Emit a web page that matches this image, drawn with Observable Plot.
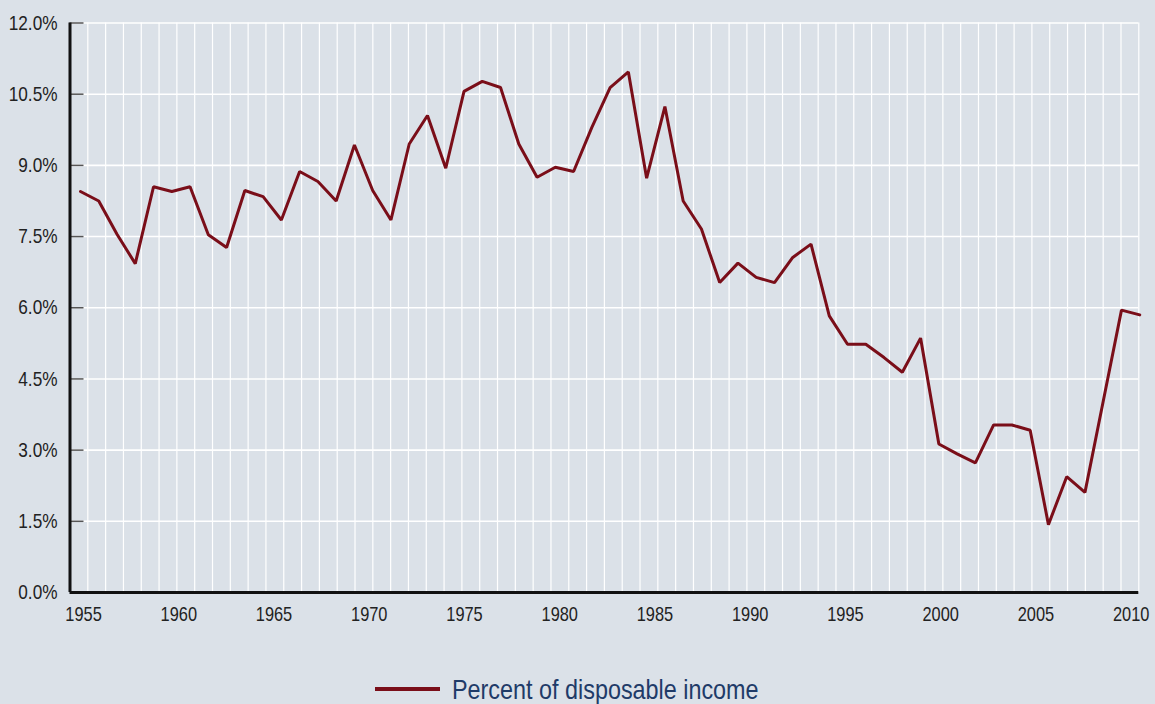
<!DOCTYPE html>
<html><head><meta charset="utf-8">
<script src="https://cdn.jsdelivr.net/npm/d3@7"></script>
<script src="https://cdn.jsdelivr.net/npm/@observablehq/plot@0.6"></script>
<style>
html,body{margin:0;padding:0;background:#dbe1e8;width:1155px;height:704px;overflow:hidden;}
#chart{position:absolute;left:0;top:0;}
#legend{position:absolute;left:375px;top:675px;display:flex;align-items:center;font-family:"Liberation Sans",Arial,sans-serif;font-size:28.5px;line-height:28px;color:#1f3b68;white-space:nowrap;}
#legend .sw{display:inline-block;width:65px;height:4px;background:#7a0e19;margin-right:12px;}
#legend .txt{display:inline-block;transform:scaleX(0.82);transform-origin:left center;}
</style></head><body>
<div id="chart"></div>
<div id="legend"><span class="sw"></span><span class="txt">Percent of disposable income</span></div>
<script>
// Series: personal saving, percent of disposable income
const years = [1952,1953,1954,1955,1956,1957,1958,1959,1960,1961,1962,1963,1964,1965,1966,1967,1968,1969,1970,1971,
  1972,1973,1974,1975,1976,1977,1978,1979,1980,1981,1982,1983,1984,1985,1986,1987,1988,1989,1990,1991,
  1992,1993,1994,1995,1996,1997,1998,1999,2000,2001,2002,2003,2004,2005,2006,2007,2008,2009,2010];
const savingRate = [8.45,8.25,7.55,6.93,8.55,8.45,8.55,7.54,7.27,8.47,
  8.34,7.85,8.87,8.66,8.25,9.43,8.47,7.85,9.45,10.05,
  8.94,10.56,10.77,10.64,9.45,8.75,8.96,8.87,9.80,10.64,
  10.97,8.73,10.24,8.25,7.66,6.53,6.94,6.64,6.53,7.06,
  7.34,5.83,5.23,5.23,4.95,4.64,5.36,3.13,2.92,2.73,
  3.53,3.53,3.42,1.43,2.44,2.11,4.03,5.95,5.85];
const xTickYears = [1955,1960,1965,1970,1975,1980,1985,1990,1995,2000,2005,2010];
const yTicks = [0,1.5,3,4.5,6,7.5,9,10.5,12];

const lineColor = "#7a0e19";
const bg = "#dbe1e8";
const font = '"Liberation Sans",Arial,sans-serif';

// axis (label-year) domain of the frame, and the placement of the series on it
const xDomain = [1954.29, 2010.40];
const toAxis = d3.scaleLinear().domain([years[0], years[years.length-1]]).range([1954.84, 2010.45]);
const data = years.map((yr, i) => ({x: toAxis(yr), v: savingRate[i]}));
const gridX = d3.range(1, 61).map(k => xDomain[0] + k * (xDomain[1] - xDomain[0]) / 60);
const tickLen = (xDomain[1] - xDomain[0]) * 14 / 1068.8;

const chart = Plot.plot({
  width: 1155, height: 640,
  marginLeft: 69.5, marginRight: 16.7, marginTop: 22.5, marginBottom: 48,
  style: {background: bg, fontFamily: font, color: "#222", overflow: "visible"},
  x: {domain: xDomain},
  y: {domain: [0, 12]},
  marks: [
    Plot.ruleX(gridX, {stroke: "#fff", strokeWidth: 1.2}),
    Plot.ruleY(yTicks.filter(d => d > 0), {stroke: "#fff", strokeWidth: 1.6}),
    Plot.ruleY(yTicks.filter(d => d > 0), {x1: xDomain[0], x2: xDomain[0] + tickLen, stroke: "#555", strokeWidth: 1.5}),
    Plot.axisY({ticks: yTicks, tickSize: 0, tickPadding: 12.5, tickFormat: d => d.toFixed(1) + "%", fontSize: 21, label: null}),
    Plot.axisX({ticks: xTickYears, tickSize: 0, tickPadding: 14, tickFormat: d => String(d), fontSize: 20, label: null}),
    Plot.ruleX([xDomain[0]], {stroke: "#111", strokeWidth: 3}),
    Plot.ruleY([0], {stroke: "#111", strokeWidth: 3}),
    Plot.line(data, {x: "x", y: "v", stroke: lineColor, strokeWidth: 3, strokeLinejoin: "miter"})
  ]
});
// condense tick-label glyphs horizontally (narrow typeface look)
chart.querySelectorAll('g[aria-label$="tick label"] text').forEach(t => {
  let tr = t.getAttribute("transform");
  if (!tr) {
    const x = t.getAttribute("x") || 0, y = t.getAttribute("y") || 0;
    t.removeAttribute("x"); t.removeAttribute("y");
    tr = `translate(${x},${y})`;
  }
  t.setAttribute("transform", tr + " scale(0.82,1)");
});
document.getElementById("chart").appendChild(chart);
</script>
</body></html>
